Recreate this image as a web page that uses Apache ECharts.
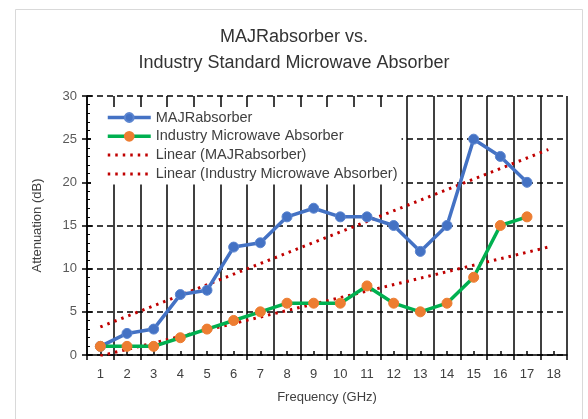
<!DOCTYPE html>
<html>
<head>
<meta charset="utf-8">
<script src="https://cdn.jsdelivr.net/npm/echarts@6/dist/echarts.min.js"></script>
<style>
html,body{margin:0;padding:0;background:#fff;}
#c{width:588px;height:419px;}
</style>
</head>
<body>
<div id="c"></div>
<script>
// ---- data ----
var categories = ['1','2','3','4','5','6','7','8','9','10','11','12','13','14','15','16','17','18'];
var majValues = [1, 2.5, 3, 7, 7.5, 12.5, 13, 16, 17, 16, 16, 15, 12, 15, 25, 23, 20];
var industryValues = [1, 1, 1, 2, 3, 4, 5, 6, 6, 6, 8, 6, 5, 6, 9, 15, 16];
// trendline end points: [frequency, dB]
var majTrend = [[1, 3.25], [17.8, 23.8]];
var industryTrend = [[1, -0.1], [17.8, 12.5]];
var yTicks = [0, 5, 10, 15, 20, 25, 30];

var chart = echarts.init(document.getElementById('c'), null, {renderer: 'canvas'});
var FONT = '"Liberation Sans", Arial, sans-serif';
var DOTS = [2.5, 5];
var option = {
  animation: false,
  backgroundColor: '#fff',
  textStyle: {fontFamily: FONT},
  graphic: [{
    type: 'rect', shape: {x: 15.5, y: 9.5, width: 567, height: 420},
    style: {fill: 'none', stroke: '#d9d9d9', lineWidth: 1}, silent: true, z: -10
  }],
  title: {
    text: 'MAJRabsorber vs.\nIndustry Standard Microwave Absorber',
    left: 'center', top: 19,
    textStyle: {fontFamily: FONT, fontSize: 18, fontWeight: 'normal', color: '#333', lineHeight: 26}
  },
  legend: {
    orient: 'vertical', left: 91, top: 107,
    backgroundColor: '#fff', padding: [3, 4, 3, 15],
    itemWidth: 43, itemHeight: 11, itemGap: 3.8,
    textStyle: {fontFamily: FONT, fontSize: 14.5, color: '#404040'},
    data: [
      {name: 'MAJRabsorber', lineStyle: {color: '#4472C4', width: 3.5}, itemStyle: {color: '#4472C4'}},
      {name: 'Industry Microwave Absorber', lineStyle: {color: '#00B050', width: 3.5}, itemStyle: {color: '#ED7D31'}},
      {name: 'Linear (MAJRabsorber)', lineStyle: {color: '#C00000', width: 3, type: DOTS}, itemStyle: {opacity: 0}},
      {name: 'Linear (Industry Microwave Absorber)', lineStyle: {color: '#C00000', width: 3, type: DOTS}, itemStyle: {opacity: 0}}
    ]
  },
  grid: {left: 87, right: 21, top: 96, bottom: 64, containLabel: false},
  xAxis: [{
    type: 'category', data: categories, boundaryGap: true,
    name: 'Frequency (GHz)', nameLocation: 'middle', nameGap: 36,
    nameTextStyle: {fontFamily: FONT, fontSize: 13, color: '#404040'},
    axisLine: {lineStyle: {color: '#000', width: 1.5}},
    axisTick: {show: true, interval: 0, length: 5, lineStyle: {color: '#000', width: 1.5}},
    axisLabel: {interval: 0, margin: 13, fontFamily: FONT, fontSize: 13, color: '#404040'},
    splitLine: {show: true, interval: 0, lineStyle: {color: '#000', width: 1.5}}
  }, {
    type: 'category', data: categories, boundaryGap: true, position: 'bottom',
    axisLine: {show: false},
    axisTick: {show: true, inside: true, alignWithLabel: true, interval: 0, length: 4, lineStyle: {color: '#000', width: 1.5}},
    axisLabel: {show: false}, splitLine: {show: false}
  }, {
    type: 'value', min: 0.5, max: 18.5, show: false
  }],
  yAxis: [{
    type: 'value', min: yTicks[0], max: yTicks[yTicks.length - 1], interval: 5,
    name: 'Attenuation (dB)', nameLocation: 'middle', nameGap: 43,
    nameTextStyle: {fontFamily: FONT, fontSize: 13, color: '#404040'},
    axisLine: {show: true, lineStyle: {color: '#000', width: 1.5}},
    axisTick: {show: true, length: 5, lineStyle: {color: '#000', width: 1.5}},
    axisLabel: {margin: 10, fontFamily: FONT, fontSize: 13, color: '#595959'},
    splitLine: {show: true, lineStyle: {color: '#000', width: 1.5, type: [6, 4]}}
  }, {
    type: 'value', min: 0, max: 30, interval: 5, position: 'left',
    axisLine: {show: false},
    axisTick: {show: true, inside: true, length: 5, lineStyle: {color: '#000', width: 1.5}},
    minorTick: {show: true, splitNumber: 5, length: 3, lineStyle: {color: '#000', width: 1}},
    axisLabel: {show: false}, splitLine: {show: false}
  }],
  series: [{
    name: 'Linear (MAJRabsorber)', type: 'line', xAxisIndex: 2, yAxisIndex: 0,
    data: majTrend, symbol: 'none', z: 3,
    lineStyle: {color: '#C00000', width: 3, type: DOTS},
    itemStyle: {color: '#C00000'}
  }, {
    name: 'Linear (Industry Microwave Absorber)', type: 'line', xAxisIndex: 2, yAxisIndex: 0,
    data: industryTrend, symbol: 'none', z: 3,
    lineStyle: {color: '#C00000', width: 3, type: DOTS},
    itemStyle: {color: '#C00000'}
  }, {
    name: 'MAJRabsorber', type: 'line', xAxisIndex: 0, yAxisIndex: 0,
    data: majValues, symbol: 'circle', symbolSize: 10, z: 4,
    lineStyle: {color: '#4472C4', width: 3.5},
    itemStyle: {color: '#4472C4', borderColor: '#5b85d0', borderWidth: 1}
  }, {
    name: 'Industry Microwave Absorber', type: 'line', xAxisIndex: 0, yAxisIndex: 0,
    data: industryValues, symbol: 'circle', symbolSize: 10, z: 4,
    lineStyle: {color: '#00B050', width: 3.5},
    itemStyle: {color: '#ED7D31', borderColor: '#ED7D31', borderWidth: 1}
  }]
};
chart.setOption(option);
</script>
</body>
</html>
